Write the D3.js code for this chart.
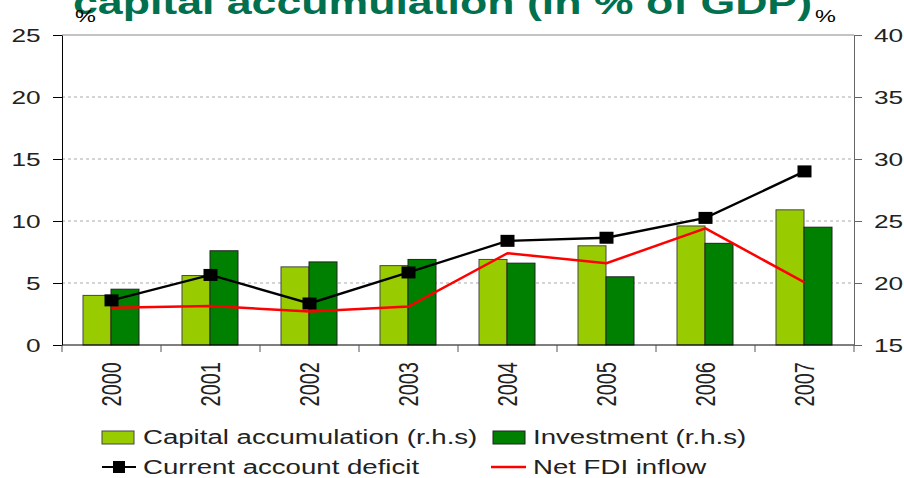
<!DOCTYPE html>
<html>
<head>
<meta charset="utf-8">
<script src="https://cdn.jsdelivr.net/npm/d3@7"></script>
<style>
  body { margin:0; background:#fff; }
  svg text { font-family: "Liberation Sans", Arial, sans-serif; }
</style>
</head>
<body>
<script>
const width = 904;
const height = 478;
const sx = 1.38; // the source picture is stretched sideways

const years = ['2000','2001','2002','2003','2004','2005','2006','2007'];
const capitalAccum = [19.0, 20.6, 21.3, 21.4, 21.9, 23.0, 24.6, 25.9]; // r.h.s
const investment   = [19.5, 22.6, 21.7, 21.9, 21.6, 20.5, 23.2, 24.5]; // r.h.s
const caDeficit    = [3.6, 5.65, 3.35, 5.85, 8.4, 8.65, 10.25, 14.0];
const netFdi       = [3.0, 3.15, 2.7, 3.1, 7.4, 6.6, 9.4, 5.05];
const leftTicks  = [0, 5, 10, 15, 20, 25];
const rightTicks = [15, 20, 25, 30, 35, 40];

const plotL = 62, plotR = 854, plotT = 35, plotB = 345;

const svg = d3.select('body').append('svg')
              .attr('width', width).attr('height', height);

const x = d3.scaleBand().domain(years).range([plotL, plotR]);
const xInner = d3.scaleBand().domain(['cap','inv']).range([21, 77]);
const yL = d3.scaleLinear().domain([0, 25]).range([plotB, plotT]);
const yR = d3.scaleLinear().domain([15, 40]).range([plotB, plotT]);

// title, cut at the top like the original
svg.append('text').text('capital accumulation (in % of GDP)')
   .attr('x', 73).attr('y', 14)
   .attr('font-size', 33).attr('font-weight', 'bold')
   .attr('fill', '#00704f')
   .attr('textLength', 739).attr('lengthAdjust', 'spacingAndGlyphs');

svg.append('text').text('%').attr('font-size', 17)
   .attr('transform', `translate(75,22) scale(${sx},1)`);
svg.append('text').text('%').attr('font-size', 17)
   .attr('transform', `translate(815,22) scale(${sx},1)`);

// grid
svg.append('g').selectAll('line').data(leftTicks.filter(d => d > 0 && d < 25))
   .enter().append('line')
   .attr('x1', plotL).attr('x2', plotR)
   .attr('y1', d => yL(d)).attr('y2', d => yL(d))
   .attr('stroke', '#aaa').attr('stroke-dasharray', '3,3');
svg.append('line').attr('x1', plotL).attr('x2', plotR)
   .attr('y1', yL(25)).attr('y2', yL(25)).attr('stroke', '#888').attr('stroke-width', 1.2);

// bars
const groups = svg.append('g').selectAll('g').data(years).enter().append('g')
                  .attr('transform', d => `translate(${x(d)},0)`);
groups.append('rect')
      .attr('x', xInner('cap')).attr('width', xInner.bandwidth())
      .attr('y', (d, i) => yR(capitalAccum[i]))
      .attr('height', (d, i) => plotB - yR(capitalAccum[i]))
      .attr('fill', '#99cc00').attr('stroke', '#444').attr('stroke-width', 1);
groups.append('rect')
      .attr('x', xInner('inv')).attr('width', xInner.bandwidth())
      .attr('y', (d, i) => yR(investment[i]))
      .attr('height', (d, i) => plotB - yR(investment[i]))
      .attr('fill', '#008000').attr('stroke', '#222').attr('stroke-width', 1);

// axes
const leftAxis = d3.axisLeft(yL).tickValues(leftTicks).tickSize(9).tickSizeOuter(0).tickPadding(6.5);
const gL = svg.append('g').attr('transform', `translate(${plotL},0)`).call(leftAxis);
gL.select('.domain').attr('stroke', '#000');
gL.selectAll('text').attr('font-size', 19).attr('fill', '#222')
  .attr('font-family', '"Liberation Sans", Arial, sans-serif')
  .attr('transform', `scale(${sx},1)`);

const rightAxis = d3.axisRight(yR).tickValues(rightTicks).tickSize(8).tickSizeOuter(0).tickPadding(6.5);
const gR = svg.append('g').attr('transform', `translate(${plotR},0)`).call(rightAxis);
gR.select('.domain').attr('stroke', '#666');
gR.selectAll('line').attr('stroke', '#666');
gR.selectAll('text').attr('font-size', 19).attr('fill', '#222')
  .attr('font-family', '"Liberation Sans", Arial, sans-serif')
  .attr('transform', `scale(${sx},1)`);

// bottom axis: ticks at band edges
const gB = svg.append('g');
gB.append('line').attr('x1', plotL).attr('x2', plotR)
  .attr('y1', plotB).attr('y2', plotB).attr('stroke', '#000');
gB.selectAll('line.tk').data(years.concat(['end'])).enter().append('line')
  .attr('class', 'tk')
  .attr('x1', (d, i) => plotL + i * x.bandwidth())
  .attr('x2', (d, i) => plotL + i * x.bandwidth())
  .attr('y1', plotB).attr('y2', plotB + 7).attr('stroke', '#555');
gB.selectAll('text').data(years).enter().append('text')
  .text(d => d)
  .attr('font-size', 20).attr('fill', '#222')
  .attr('text-anchor', 'end').attr('dy', '0.35em')
  .attr('transform', d => `translate(${x(d) + x.bandwidth() / 2},362) scale(${sx},1) rotate(-90)`);

// lines
const cx = d => x(d) + x.bandwidth() / 2;
const fdiLine = d3.line().x(d => cx(d[0])).y(d => yL(d[1]));
svg.append('path').datum(years.map((d, i) => [d, netFdi[i]]))
   .attr('d', fdiLine).attr('fill', 'none')
   .attr('stroke', '#ff0000').attr('stroke-width', 2.5);
svg.append('path').datum(years.map((d, i) => [d, caDeficit[i]]))
   .attr('d', fdiLine).attr('fill', 'none')
   .attr('stroke', '#000').attr('stroke-width', 2.3);
svg.append('g').selectAll('rect').data(years).enter().append('rect')
   .attr('x', d => cx(d) - 7).attr('y', (d, i) => yL(caDeficit[i]) - 6)
   .attr('width', 14).attr('height', 12).attr('fill', '#000');

// legend
const leg = svg.append('g');
leg.append('rect').attr('x', 102).attr('y', 431).attr('width', 32).attr('height', 13)
   .attr('fill', '#99cc00').attr('stroke', '#444');
leg.append('text').text('Capital accumulation (r.h.s)').attr('font-size', 20).attr('fill', '#222')
   .attr('transform', `translate(143,444) scale(${sx},1)`);
leg.append('rect').attr('x', 493).attr('y', 431).attr('width', 32).attr('height', 13)
   .attr('fill', '#008000').attr('stroke', '#222');
leg.append('text').text('Investment (r.h.s)').attr('font-size', 20).attr('fill', '#222')
   .attr('transform', `translate(533,444) scale(${sx},1)`);
leg.append('line').attr('x1', 102).attr('x2', 136).attr('y1', 467).attr('y2', 467)
   .attr('stroke', '#000').attr('stroke-width', 2);
leg.append('rect').attr('x', 113).attr('y', 461).attr('width', 12).attr('height', 12).attr('fill', '#000');
leg.append('text').text('Current account deficit').attr('font-size', 20).attr('fill', '#222')
   .attr('transform', `translate(143,474) scale(${sx},1)`);
leg.append('line').attr('x1', 491).attr('x2', 526).attr('y1', 467).attr('y2', 467)
   .attr('stroke', '#ff0000').attr('stroke-width', 2.5);
leg.append('text').text('Net FDI inflow').attr('font-size', 20).attr('fill', '#222')
   .attr('transform', `translate(533,474) scale(${sx},1)`);
</script>
</body>
</html>
